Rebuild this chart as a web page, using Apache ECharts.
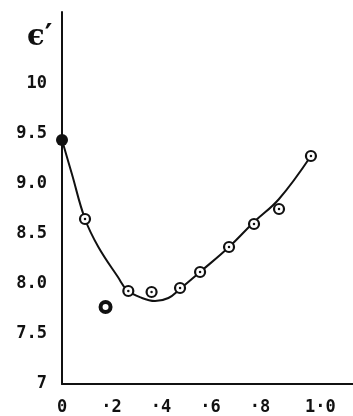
<!DOCTYPE html>
<html>
<head>
<meta charset="utf-8">
<script src="https://cdn.jsdelivr.net/npm/echarts@6/dist/echarts.min.js"></script>
<style>html,body{margin:0;padding:0;background:#fff;}#c{width:353px;height:416px;}</style>
</head>
<body>
<div id="c"></div>
<script>
// ---- data ----
const xTickValues = [0, 0.2, 0.4, 0.6, 0.8, 1.0];
const xTickLabels = ['0', '·2', '·4', '·6', '·8', '1·0'];
const yTickValues = [7, 7.5, 8, 8.5, 9, 9.5, 10];
const yTickLabels = ['7', '7.5', '8.0', '8.5', '9.0', '9.5', '10'];

// open circles (with centre dot)
const openX = [0.093, 0.268, 0.362, 0.477, 0.558, 0.675, 0.776, 0.877, 1.006];
const openY = [8.65, 7.93, 7.92, 7.96, 8.12, 8.37, 8.60, 8.75, 9.28];
// solid point on the axis
const solidX = [0];
const solidY = [9.44];
// dark (mostly filled) stray point
const darkX = [0.176];
const darkY = [7.77];
// hand-drawn fitted curve
const curveX = [0, 0.04, 0.093, 0.147, 0.226, 0.263, 0.323, 0.376, 0.43, 0.477, 0.558, 0.675, 0.776, 0.877, 1.006];
const curveY = [9.44, 9.10, 8.65, 8.37, 8.07, 7.94, 7.86, 7.83, 7.86, 7.95, 8.12, 8.37, 8.62, 8.85, 9.28];

const zip = (a, b) => a.map((v, i) => [v, b[i]]);
const lookup = (vals, labels) => v => {
  const i = vals.findIndex(t => Math.abs(t - v) < 1e-6);
  return i >= 0 ? labels[i] : '';
};

const ink = '#111';
const font = 'DejaVu Sans Mono';
const xLabel = lookup(xTickValues, xTickLabels);
const chart = echarts.init(document.getElementById('c'), null, {renderer: 'canvas'});
chart.setOption({
  backgroundColor: '#fff',
  animation: false,
  title: {
    text: 'ϵ′', left: 22, top: 18,
    textStyle: {fontFamily: 'DejaVu Serif', fontSize: 29, fontWeight: 'bold', color: ink}
  },
  grid: {left: 62, right: 0, top: 12, bottom: 32},
  xAxis: {
    type: 'value', min: 0, max: 1.176, interval: 0.2,
    axisLine: {show: true, onZero: false, lineStyle: {color: ink, width: 2}},
    axisTick: {show: false},
    splitLine: {show: false},
    axisLabel: {
      margin: 15, color: ink, fontFamily: font, fontSize: 17, fontWeight: 'bold',
      showMaxLabel: false,
      formatter: v => {
        const s = xLabel(v);
        return s === '1·0' ? '{r|' + s + '}' : s;
      },
      rich: {r: {fontFamily: font, fontSize: 17, fontWeight: 'bold', color: ink, padding: [0, 0, 0, 22]}}
    }
  },
  yAxis: {
    type: 'value', min: 7, max: 10.72, interval: 0.5,
    axisLine: {show: true, onZero: false, lineStyle: {color: ink, width: 2}},
    axisTick: {show: false},
    splitLine: {show: false},
    axisLabel: {
      margin: 15, color: ink, fontFamily: font, fontSize: 17, fontWeight: 'bold',
      showMaxLabel: false,
      formatter: lookup(yTickValues, yTickLabels)
    }
  },
  series: [
    {
      type: 'line', data: zip(curveX, curveY), smooth: 0.4, symbol: 'none',
      lineStyle: {color: ink, width: 2}, z: 2
    },
    {
      type: 'scatter', data: zip(openX, openY), symbol: 'circle', symbolSize: 10,
      itemStyle: {color: '#fff', borderColor: ink, borderWidth: 2.2, opacity: 1}, z: 3
    },
    {
      type: 'scatter', data: zip(openX, openY), symbol: 'circle', symbolSize: 2.5,
      itemStyle: {color: ink, opacity: 1}, z: 4
    },
    {
      type: 'scatter', data: zip(darkX, darkY), symbol: 'circle', symbolSize: 10,
      itemStyle: {color: '#fff', borderColor: ink, borderWidth: 4, opacity: 1}, z: 3
    },
    {
      type: 'scatter', data: zip(solidX, solidY), symbol: 'circle', symbolSize: 12,
      itemStyle: {color: ink, opacity: 1}, z: 5
    }
  ]
});
</script>
</body>
</html>
